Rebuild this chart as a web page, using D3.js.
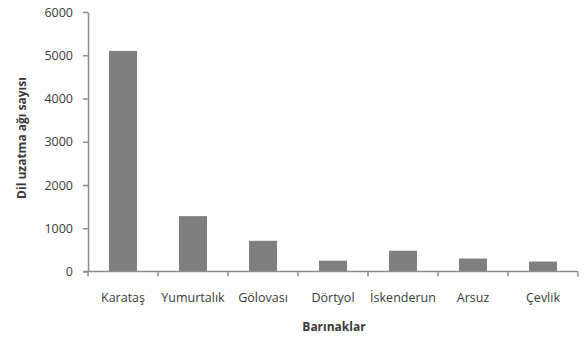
<!DOCTYPE html>
<html lang="tr">
<head>
<meta charset="UTF-8">
<title>Barınaklar</title>
<style>
    body { margin: 0; background: #fff; }
    text { font-family: "Open Sans", sans-serif; fill: #3a3a3a; }
    .axis path, .axis line { stroke: #8c8c8c; stroke-width: 1.5px; }
    .axis text { font-size: 12.5px; }
    .title { font-size: 12px; font-weight: bold; }
</style>
</head>
<body>
<div id="chart"></div>
<script src="https://cdn.jsdelivr.net/npm/d3@7"></script>
<script>
const categories = ["Karataş", "Yumurtalık", "Gölovası", "Dörtyol", "İskenderun", "Arsuz", "Çevlik"];
const values = [5100, 1280, 710, 250, 480, 300, 230];
const yTicks = [0, 1000, 2000, 3000, 4000, 5000, 6000];

const W = 587, H = 341;
const margin = { top: 12, right: 9, bottom: 69, left: 88 };

const svg = d3.select("#chart").append("svg")
    .attr("width", W)
    .attr("height", H);

const x = d3.scaleBand()
    .domain(categories)
    .range([margin.left, W - margin.right])
    .paddingInner(0.6)
    .paddingOuter(0.3);

const y = d3.scaleLinear()
    .domain([0, 6000])
    .range([H - margin.bottom - 0.5, margin.top]);

// bars
svg.selectAll(".bar")
    .data(values)
    .enter().append("rect")
    .attr("class", "bar")
    .attr("x", (d, i) => x(categories[i]))
    .attr("width", x.bandwidth())
    .attr("y", d => y(d))
    .attr("height", d => y(0) - y(d))
    .attr("fill", "#7f7f7f");

// y axis
svg.append("g")
    .attr("class", "axis")
    .attr("transform", `translate(${margin.left},0)`)
    .call(d3.axisLeft(y).tickValues(yTicks).tickFormat(d3.format("d")).tickSize(5).tickSizeOuter(0).tickPadding(10));

// x axis: ticks sit on the band edges, labels in the middle
const step = x.step();
const edges = d3.range(categories.length + 1).map(i => margin.left + i * step);
const xAxis = svg.append("g")
    .attr("class", "axis")
    .attr("transform", `translate(0,${y(0)})`);
xAxis.append("line")
    .attr("x1", margin.left - 5).attr("x2", W - margin.right)
    .attr("y1", 0).attr("y2", 0);
xAxis.selectAll(".edge")
    .data(edges)
    .enter().append("line")
    .attr("x1", d => d).attr("x2", d => d)
    .attr("y1", 0).attr("y2", 5);
xAxis.selectAll(".lbl")
    .data(categories)
    .enter().append("text")
    .attr("x", d => x(d) + x.bandwidth() / 2)
    .attr("y", 30)
    .attr("text-anchor", "middle")
    .text(d => d);

// axis titles
svg.append("text")
    .attr("class", "title")
    .attr("transform", `translate(26,138) rotate(-90)`)
    .attr("text-anchor", "middle")
    .text("Dil uzatma ağı sayısı");

svg.append("text")
    .attr("class", "title")
    .attr("x", 334)
    .attr("y", 331)
    .attr("text-anchor", "middle")
    .text("Barınaklar");
</script>
</body>
</html>
